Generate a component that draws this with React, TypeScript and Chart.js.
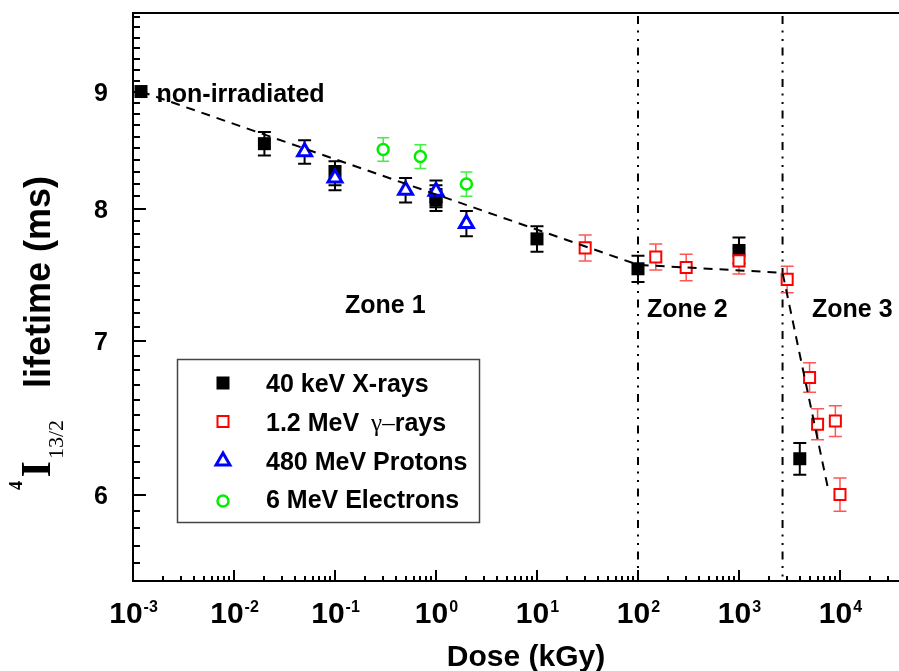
import React, { useEffect, useRef } from 'react';
import { Chart, registerables } from 'chart.js';

Chart.register(...registerables);

// ---------- data ----------
const nonIrradiatedDose = [1.2e-3];
const nonIrradiatedLifetime = [9.0];

const xrayDose = [0.02, 0.1, 1, 1, 10, 100, 1000, 4000];
const xrayLifetime = [8.54, 8.29, 8.1, 8.07, 7.76, 7.53, 7.67, 6.22];
const xrayError = [0.1, 0.1, 0.09, 0.09, 0.1, 0.1, 0.1, 0.1];

const gammaDose = [30, 150, 300, 1000, 3000, 5000, 6000, 9000, 10000];
const gammaLifetime = [7.69, 7.62, 7.54, 7.59, 7.45, 6.75, 6.44, 6.46, 6.0];
const gammaError = [0.1, 0.1, 0.1, 0.1, 0.1, 0.1, 0.1, 0.1, 0.1];

const protonDose = [0.05, 0.1, 0.5, 1, 2];
const protonLifetime = [8.47, 8.25, 8.15, 8.14, 7.88];
const protonError = [0.1, 0.1, 0.1, 0.09, 0.1];

const electronDose = [0.3, 0.7, 2];
const electronLifetime = [8.49, 8.43, 8.2];
const electronError = [0.1, 0.1, 0.1];

const fitDose = [1.2e-3, 100, 2700, 7650];
const fitLifetime = [9.0, 7.56, 7.5, 6.03];

const zoneBoundaryDose = [100, 2700];
const zoneLabels = ['Zone 1', 'Zone 2', 'Zone 3'];
const legendLabels = ['40 keV X-rays', '1.2 MeV', '480 MeV Protons', '6 MeV Electrons'];
const xTickExponents = [-3, -2, -1, 0, 1, 2, 3, 4];
const yTickValues = [6, 7, 8, 9];

const SANS = '"Liberation Sans", Arial, Helvetica, sans-serif';
const SERIF = '"Liberation Serif", "Times New Roman", serif';

const toXY = (xs: number[], ys: number[]) => xs.map((x, i) => ({ x, y: ys[i] }));

const errorSeries = [
  { dose: xrayDose, val: xrayLifetime, err: xrayError, color: '#000000', lw: 2, cap: 13 },
  { dose: protonDose, val: protonLifetime, err: protonError, color: '#000000', lw: 2, cap: 13 },
  { dose: gammaDose, val: gammaLifetime, err: gammaError, color: '#ff5555', lw: 1.5, cap: 13 },
  { dose: electronDose, val: electronLifetime, err: electronError, color: '#44ee44', lw: 1.5, cap: 12 },
];

function rotText(ctx: CanvasRenderingContext2D, text: string, font: string, bx: number, by: number) {
  ctx.save();
  ctx.translate(bx, by);
  ctx.rotate(-Math.PI / 2);
  ctx.font = font;
  ctx.textAlign = 'left';
  ctx.textBaseline = 'alphabetic';
  ctx.fillText(text, 0, 0);
  ctx.restore();
}

const decorPlugin = {
  id: 'decor',
  beforeDatasetsDraw(chart: any) {
    const { ctx, chartArea: ca } = chart;
    const xs = chart.scales.x;
    const ys = chart.scales.y;
    ctx.save();
    // zone boundaries (dash-dot-dot)
    ctx.strokeStyle = '#000';
    ctx.lineWidth = 2;
    ctx.setLineDash([8, 6.5, 2, 6.5, 2, 6.5]);
    zoneBoundaryDose.forEach((d) => {
      const px = xs.getPixelForValue(d);
      ctx.beginPath();
      ctx.moveTo(px, ca.top + 3);
      ctx.lineTo(px, ca.bottom);
      ctx.stroke();
    });
    ctx.setLineDash([]);
    // error bars
    errorSeries.forEach((s) => {
      ctx.strokeStyle = s.color;
      ctx.lineWidth = s.lw;
      s.dose.forEach((d, i) => {
        const px = xs.getPixelForValue(d);
        const top = ys.getPixelForValue(s.val[i] + s.err[i]);
        const bot = ys.getPixelForValue(s.val[i] - s.err[i]);
        ctx.beginPath();
        ctx.moveTo(px, top);
        ctx.lineTo(px, bot);
        ctx.moveTo(px - s.cap / 2, top);
        ctx.lineTo(px + s.cap / 2, top);
        ctx.moveTo(px - s.cap / 2, bot);
        ctx.lineTo(px + s.cap / 2, bot);
        ctx.stroke();
      });
    });
    ctx.restore();
  },
  afterDraw(chart: any) {
    const { ctx, chartArea: ca } = chart;
    const xs = chart.scales.x;
    const ys = chart.scales.y;
    ctx.save();
    ctx.strokeStyle = '#000';
    ctx.fillStyle = '#000';
    ctx.lineWidth = 2;
    ctx.setLineDash([]);
    // frame
    ctx.beginPath();
    ctx.moveTo(ca.right + 2, ca.top);
    ctx.lineTo(ca.left, ca.top);
    ctx.lineTo(ca.left, ca.bottom);
    ctx.lineTo(ca.right + 2, ca.bottom);
    ctx.stroke();

    // y ticks (every 0.1, inward)
    ctx.beginPath();
    for (let i = Math.round(ys.min * 10) + 1; i <= Math.floor(ys.max * 10 + 1e-6); i++) {
      const py = Math.round(ys.getPixelForValue(i / 10));
      const len = i % 10 === 0 ? 13 : 7;
      ctx.moveTo(ca.left, py);
      ctx.lineTo(ca.left + len, py);
    }
    ctx.stroke();

    // x ticks (log, inward)
    ctx.beginPath();
    for (let e = -3; e <= 5; e++) {
      for (let k = 1; k <= 9; k++) {
        const v = k * Math.pow(10, e);
        if (v <= xs.min * 1.0001 || v >= xs.max) continue;
        const px = Math.round(xs.getPixelForValue(v));
        const len = k === 1 ? 11 : 5;
        ctx.moveTo(px, ca.bottom);
        ctx.lineTo(px, ca.bottom - len);
      }
    }
    ctx.stroke();

    // y tick labels
    ctx.font = `bold 25px ${SANS}`;
    ctx.textAlign = 'right';
    ctx.textBaseline = 'alphabetic';
    yTickValues.forEach((v) => {
      const py = ys.getPixelForValue(v);
      ctx.fillText(String(v), ca.left - 25, py + 9);
    });

    // x tick labels 10^n
    ctx.textAlign = 'left';
    xTickExponents.forEach((ex) => {
      const px = xs.getPixelForValue(Math.pow(10, ex));
      const baseFont = `bold 30px ${SANS}`;
      const expFont = `bold 16px ${SANS}`;
      ctx.font = baseFont;
      const wb = ctx.measureText('10').width;
      ctx.font = expFont;
      const expText = String(ex);
      const we = ctx.measureText(expText).width;
      const start = px - (wb + we) / 2;
      ctx.font = baseFont;
      ctx.fillText('10', start, ca.bottom + 42);
      ctx.font = expFont;
      ctx.fillText(expText, start + wb + 1, ca.bottom + 31);
    });

    // x axis title
    ctx.font = `bold 30px ${SANS}`;
    ctx.textAlign = 'center';
    ctx.fillText('Dose (kGy)', 526, ca.bottom + 85);

    // y axis title
    rotText(ctx, '4', `bold 18px ${SERIF}`, 21.7, 490);
    rotText(ctx, 'I', `bold 42px ${SERIF}`, 50, 477.5);
    rotText(ctx, '13/2', `22px ${SERIF}`, 63, 459);
    rotText(ctx, 'lifetime (ms)', `bold 36px ${SANS}`, 50, 388);

    // annotations
    ctx.textAlign = 'left';
    ctx.font = `bold 25px ${SANS}`;
    ctx.fillText('non-irradiated', 156.5, 101.5);
    ctx.fillText(zoneLabels[0], 345, 313);
    ctx.fillText(zoneLabels[1], 647, 317);
    ctx.fillText(zoneLabels[2], 812, 317);

    // legend box
    ctx.lineWidth = 1.5;
    ctx.strokeStyle = '#444';
    ctx.strokeRect(177.5, 359.5, 302, 163);
    const mx = 223;
    const rows = [383, 421.5, 460, 501];
    const bases = [392, 431, 469.5, 508];
    // markers
    ctx.fillStyle = '#000';
    ctx.fillRect(mx - 6.5, rows[0] - 6.5, 13, 13);
    ctx.lineWidth = 2;
    ctx.strokeStyle = '#ff0000';
    ctx.fillStyle = '#fff';
    ctx.fillRect(mx - 5.5, rows[1] - 5.5, 11, 11);
    ctx.strokeRect(mx - 5.5, rows[1] - 5.5, 11, 11);
    const r = 8;
    const ty = rows[2] + 1;
    ctx.lineWidth = 3;
    ctx.strokeStyle = '#0000ff';
    ctx.beginPath();
    ctx.moveTo(mx, ty - r);
    ctx.lineTo(mx + r * Math.sin((2 * Math.PI) / 3), ty - r * Math.cos((2 * Math.PI) / 3));
    ctx.lineTo(mx + r * Math.sin((4 * Math.PI) / 3), ty - r * Math.cos((4 * Math.PI) / 3));
    ctx.closePath();
    ctx.fill();
    ctx.stroke();
    ctx.lineWidth = 2.5;
    ctx.strokeStyle = '#00ee00';
    ctx.beginPath();
    ctx.arc(mx, rows[3], 5.5, 0, Math.PI * 2);
    ctx.fill();
    ctx.stroke();
    // legend text
    ctx.fillStyle = '#000';
    ctx.textAlign = 'left';
    const tx = 266;
    ctx.font = `bold 25px ${SANS}`;
    ctx.fillText(legendLabels[0], tx, bases[0]);
    ctx.fillText(legendLabels[1], tx, bases[1]);
    let gx = tx + ctx.measureText(legendLabels[1]).width + 12;
    ctx.font = `25px ${SERIF}`;
    ctx.fillText('γ–', gx, bases[1]);
    gx += ctx.measureText('γ–').width;
    ctx.font = `bold 25px ${SANS}`;
    ctx.fillText('rays', gx, bases[1]);
    ctx.fillText(legendLabels[2], tx, bases[2]);
    ctx.fillText(legendLabels[3], tx, bases[3]);
    ctx.restore();
  },
};

export default function App() {
  const ref = useRef<HTMLCanvasElement>(null);
  useEffect(() => {
    if (!ref.current) return;
    const chart = new Chart(ref.current, {
      type: 'scatter',
      data: {
        datasets: [
          {
            label: 'fit',
            data: toXY(fitDose, fitLifetime),
            showLine: true,
            borderColor: '#000',
            borderWidth: 2,
            borderDash: [9, 7],
            pointRadius: 0,
            fill: false,
          },
          {
            label: '480 MeV Protons',
            data: toXY(protonDose, protonLifetime),
            pointStyle: 'triangle',
            pointRadius: 8,
            backgroundColor: '#ffffff',
            borderColor: '#0000ff',
            borderWidth: 3,
          },
          {
            label: '1.2 MeV γ-rays',
            data: toXY(gammaDose, gammaLifetime),
            pointStyle: 'rect',
            pointRadius: 7.8,
            backgroundColor: '#ffffff',
            borderColor: '#ff0000',
            borderWidth: 2,
          },
          {
            label: '6 MeV Electrons',
            data: toXY(electronDose, electronLifetime),
            pointStyle: 'circle',
            pointRadius: 5.5,
            backgroundColor: '#ffffff',
            borderColor: '#00ee00',
            borderWidth: 2.5,
          },
          {
            label: '40 keV X-rays',
            data: toXY(xrayDose, xrayLifetime),
            pointStyle: 'rect',
            pointRadius: 9.2,
            backgroundColor: '#000000',
            borderColor: '#000000',
            borderWidth: 0,
          },
          {
            label: 'non-irradiated',
            data: toXY(nonIrradiatedDose, nonIrradiatedLifetime),
            pointStyle: 'rect',
            pointRadius: 9.2,
            backgroundColor: '#000000',
            borderColor: '#000000',
            borderWidth: 0,
          },
        ],
      },
      options: {
        animation: false,
        responsive: false,
        events: [],
        layout: { autoPadding: false, padding: { left: 133, top: 13, right: 0, bottom: 90 } },
        plugins: { legend: { display: false }, tooltip: { enabled: false } },
        scales: {
          x: { type: 'logarithmic', min: 1e-3, max: 38400, display: false, bounds: 'data' },
          y: { type: 'logarithmic', min: 5.5, max: 9.74, display: false, bounds: 'data' },
        },
      },
      plugins: [decorPlugin],
    } as any);
    return () => chart.destroy();
  }, []);
  return (
    <div style={{ position: 'absolute', left: 0, top: 0, width: 899, height: 671, background: '#fff' }}>
      <canvas ref={ref} width={899} height={671} style={{ display: 'block' }} />
    </div>
  );
}
